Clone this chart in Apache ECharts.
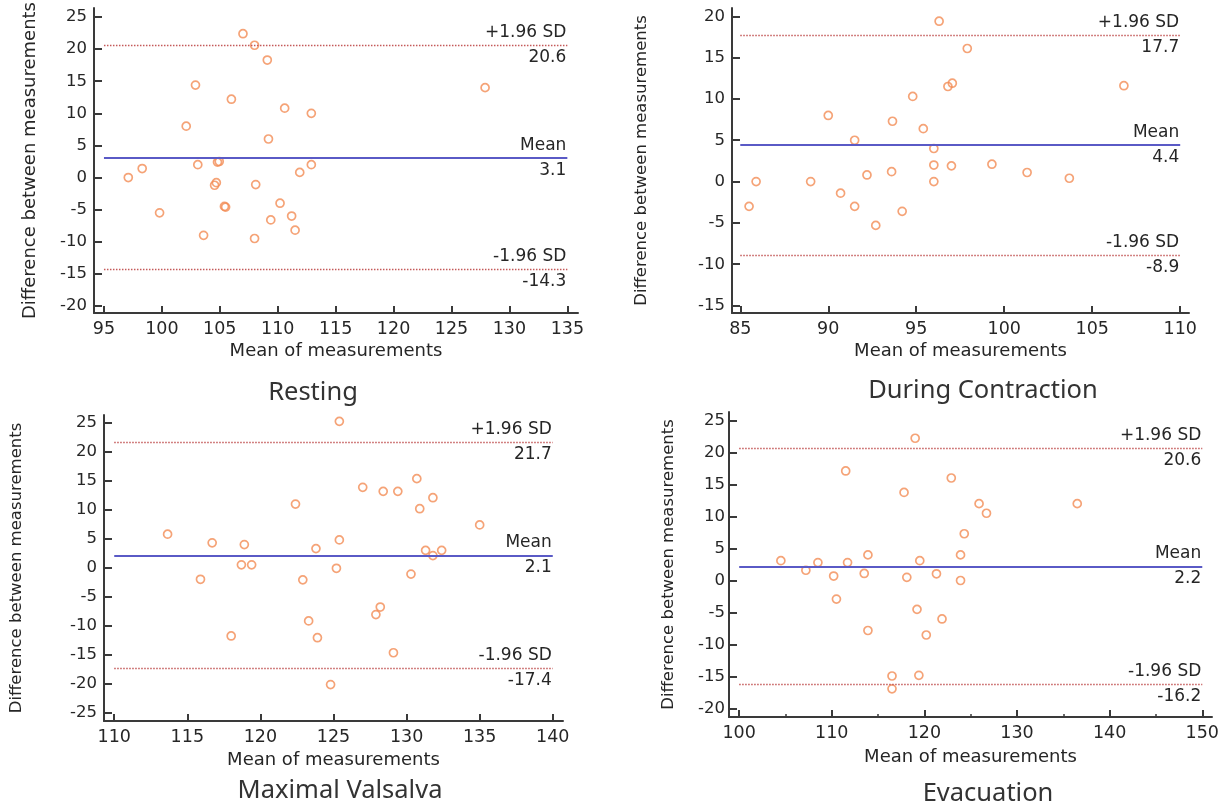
<!DOCTYPE html>
<html>
<head>
<meta charset="utf-8">
<title>Bland-Altman plots</title>
<script src="https://cdn.jsdelivr.net/npm/echarts@6/dist/echarts.min.js"></script>
<style>
  html, body { margin: 0; padding: 0; background: #fff; }
  #chart { width: 1228px; height: 811px; }
</style>
</head>
<body>
<div id="chart"></div>
<script>
// Resting
const restingMean = [97.1, 98.3, 99.8, 102.1, 102.9, 103.1, 103.6, 104.55, 104.7, 104.8, 104.95, 105.4, 105.5, 106.0, 107.0, 108.0, 108.1, 108.0, 109.1, 109.2, 109.4, 110.2, 110.6, 111.2, 111.5, 111.9, 112.9, 112.9, 127.9]
const restingDiff = [0.0, 1.4, -5.5, 8.0, 14.4, 2.0, -9.0, -1.2, -0.8, 2.4, 2.5, -4.5, -4.6, 12.2, 22.4, 20.6, -1.1, -9.5, 18.3, 6.0, -6.6, -4.0, 10.8, -6.0, -8.2, 0.8, 10.0, 2.0, 14.0]
const restingLimits = [20.6, 3.1, -14.3]
const restingXTicks = [95, 100, 105, 110, 115, 120, 125, 130, 135]
const restingYTicks = [-20, -15, -10, -5, 0, 5, 10, 15, 20, 25]

// During contraction
const contractionMean = [85.5, 85.9, 89.0, 90.0, 90.7, 91.5, 91.5, 92.2, 92.7, 93.6, 93.65, 94.2, 94.8, 95.4, 96.0, 96.0, 96.0, 96.3, 96.8, 97.05, 97.0, 97.9, 99.3, 101.3, 103.7, 106.8]
const contractionDiff = [-3.0, 0.0, 0.0, 8.0, -1.4, 5.0, -3.0, 0.8, -5.3, 1.2, 7.3, -3.6, 10.3, 6.4, 4.0, 2.0, 0.0, 19.4, 11.5, 11.9, 1.9, 16.1, 2.1, 1.1, 0.4, 11.6]
const contractionLimits = [17.7, 4.4, -8.9]
const contractionXTicks = [85, 90, 95, 100, 105, 110]
const contractionYTicks = [-15, -10, -5, 0, 5, 10, 15, 20]

// Maximal Valsalva
const valsalvaMean = [113.65, 115.9, 116.7, 118.0, 118.7, 119.4, 118.9, 122.4, 122.9, 123.3, 123.8, 123.9, 124.8, 125.2, 125.4, 125.4, 127.0, 127.9, 128.2, 128.4, 129.1, 129.4, 130.3, 130.7, 130.9, 131.3, 131.8, 131.8, 132.4, 135.0]
const valsalvaDiff = [5.8, -2.0, 4.3, -11.8, 0.5, 0.5, 4.0, 11.0, -2.1, -9.2, 3.3, -12.1, -20.2, -0.1, 4.8, 25.3, 13.9, -8.1, -6.8, 13.2, -14.7, 13.2, -1.1, 15.4, 10.2, 3.0, 12.1, 2.1, 3.0, 7.4]
const valsalvaLimits = [21.7, 2.1, -17.4]
const valsalvaXTicks = [110, 115, 120, 125, 130, 135, 140]
const valsalvaYTicks = [-25, -20, -15, -10, -5, 0, 5, 10, 15, 20, 25]

// Evacuation
const evacuationMean = [104.5, 107.2, 108.5, 110.2, 110.5, 111.5, 111.7, 113.5, 113.9, 113.9, 116.5, 116.5, 117.8, 118.1, 119.0, 119.2, 119.4, 119.5, 120.2, 121.3, 121.9, 122.9, 123.9, 123.9, 124.3, 125.9, 126.7, 136.5]
const evacuationDiff = [3.1, 1.6, 2.8, 0.7, -2.9, 17.1, 2.8, 1.1, 4.0, -7.8, -14.9, -16.9, 13.75, 0.5, 22.2, -4.5, -14.8, 3.1, -8.5, 1.05, -6.0, 16.0, 4.0, 0.0, 7.3, 12.0, 10.5, 12.0]
const evacuationLimits = [20.6, 2.2, -16.2]
const evacuationXTicks = [100, 110, 120, 130, 140, 150]
const evacuationXMinor = [105, 115, 125, 135, 145]
const evacuationYTicks = [-20, -15, -10, -5, 0, 5, 10, 15, 20, 25]

const limitNames = ['+1.96 SD', 'Mean', '-1.96 SD']

const panels = [
  {
    title: 'Resting', mean: restingMean, diff: restingDiff, limits: restingLimits,
    xTicks: restingXTicks, yTicks: restingYTicks,
    grid: { left: 94, top: 8, width: 484, height: 305 },
    xRange: [94.14, 135.92], yRange: [-21.1, 26.4],
    yNameGap: 55, yNameSize: 18, yLabelMargin: 7, xNameGap: 29, titlePos: [313, 393]
  },
  {
    title: 'During Contraction', mean: contractionMean, diff: contractionDiff, limits: contractionLimits,
    xTicks: contractionXTicks, yTicks: contractionYTicks,
    grid: { left: 732, top: 8, width: 457, height: 305 },
    xRange: [84.53, 110.5], yRange: [-15.9, 21.0],
    yNameGap: 82, yNameSize: 16.5, yLabelMargin: 7, xNameGap: 29, titlePos: [983, 391]
  },
  {
    title: 'Maximal Valsalva', mean: valsalvaMean, diff: valsalvaDiff, limits: valsalvaLimits,
    xTicks: valsalvaXTicks, yTicks: valsalvaYTicks,
    grid: { left: 104, top: 415, width: 459, height: 306 },
    xRange: [109.3, 140.7], yRange: [-26.5, 26.4],
    yNameGap: 79, yNameSize: 16.5, yLabelMargin: 7, xNameGap: 30, titlePos: [340, 791]
  },
  {
    title: 'Evacuation', mean: evacuationMean, diff: evacuationDiff, limits: evacuationLimits,
    xTicks: evacuationXTicks, xMinor: evacuationXMinor, yTicks: evacuationYTicks,
    grid: { left: 729, top: 412, width: 483, height: 305 },
    xRange: [98.9, 151.05], yRange: [-21.3, 26.3],
    yNameGap: 52, yNameSize: 16.5, yLabelMargin: 4, xNameGap: 31, titlePos: [988, 794]
  }
]

const font = 'DejaVu Sans'
const textColor = '#262626'
const axisColor = '#3a3a3a'
const meanStyle = { color: '#5a5ac6', width: 2, type: 'solid' }
const sdStyle = { color: '#c45a5a', width: 1.4, type: [1.5, 1.5] }
const limitLabel = { show: true, color: textColor, fontFamily: font, fontSize: 17, distance: [1, 4] }

const option = { animation: false, grid: [], xAxis: [], yAxis: [], series: [], graphic: [] }

panels.forEach((p, i) => {
  option.grid.push(Object.assign({}, p.grid))

  const xIndex = option.xAxis.length
  option.xAxis.push({
    type: 'value', gridIndex: i, position: 'bottom',
    min: p.xRange[0], max: p.xRange[1],
    name: 'Mean of measurements', nameLocation: 'middle', nameGap: p.xNameGap,
    nameTextStyle: { fontFamily: font, fontSize: 18, color: textColor },
    axisLine: { onZero: false, lineStyle: { color: axisColor, width: 2 } },
    axisTick: { inside: true, length: 7, customValues: p.xTicks, lineStyle: { color: axisColor, width: 2 } },
    axisLabel: { customValues: p.xTicks, margin: 7, fontFamily: font, fontSize: 17.5, color: textColor },
    splitLine: { show: false }
  })
  if (p.xMinor) {
    // small unlabelled ticks between the labelled ones
    option.xAxis.push({
      type: 'value', gridIndex: i, position: 'bottom',
      min: p.xRange[0], max: p.xRange[1],
      axisLine: { show: false, onZero: false },
      axisTick: { inside: true, length: 3, customValues: p.xMinor, lineStyle: { color: axisColor, width: 1.5 } },
      axisLabel: { show: false },
      splitLine: { show: false }
    })
  }

  option.yAxis.push({
    type: 'value', gridIndex: i,
    min: p.yRange[0], max: p.yRange[1],
    name: 'Difference between measurements', nameLocation: 'middle', nameGap: p.yNameGap, nameRotate: 90,
    nameTextStyle: { fontFamily: font, fontSize: p.yNameSize, color: textColor },
    axisLine: { onZero: false, lineStyle: { color: axisColor, width: 2 } },
    axisTick: { inside: true, length: 8, customValues: p.yTicks, lineStyle: { color: axisColor, width: 2 } },
    axisLabel: { customValues: p.yTicks, margin: p.yLabelMargin, fontFamily: font, fontSize: 16.5, color: textColor },
    splitLine: { show: false }
  })

  const x0 = p.xTicks[0]
  const x1 = p.xTicks[p.xTicks.length - 1]
  const lines = []
  p.limits.forEach((v, k) => {
    lines.push([
      { coord: [x0, v], lineStyle: k === 1 ? meanStyle : sdStyle,
        label: Object.assign({}, limitLabel, { position: 'insideEndTop', formatter: limitNames[k] }) },
      { coord: [x1, v] }
    ])
    lines.push([
      { coord: [x0, v], lineStyle: { color: 'rgba(0,0,0,0)', width: 1 },
        label: Object.assign({}, limitLabel, { position: 'insideEndBottom', formatter: v.toFixed(1) }) },
      { coord: [x1, v] }
    ])
  })

  option.series.push({
    type: 'scatter', xAxisIndex: xIndex, yAxisIndex: i,
    data: p.mean.map((m, k) => [m, p.diff[k]]),
    symbol: 'circle', symbolSize: 8,
    itemStyle: { color: 'rgba(0,0,0,0)', borderColor: '#f28c55', borderWidth: 1.7 },
    markLine: { silent: true, symbol: ['none', 'none'], data: lines }
  })

  option.graphic.push({
    type: 'text', x: p.titlePos[0], y: p.titlePos[1],
    style: { text: p.title, fontFamily: 'Noto Sans', fontSize: 25.5, fill: '#333', align: 'center', verticalAlign: 'middle' }
  })
})

const chart = echarts.init(document.getElementById('chart'))
chart.setOption(option)
</script>
</body>
</html>
